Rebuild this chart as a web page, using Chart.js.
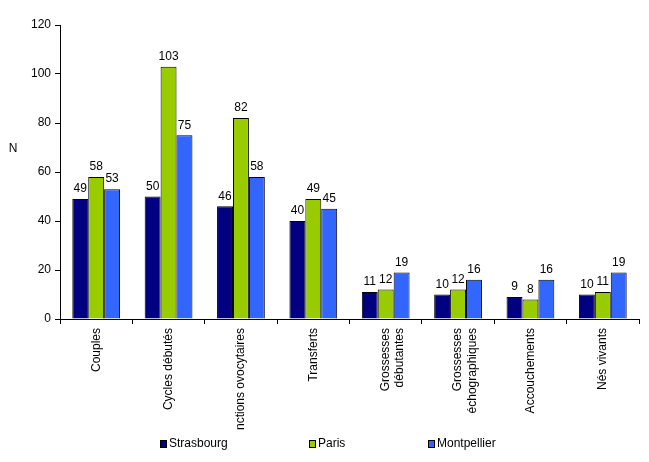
<!DOCTYPE html>
<html>
<head>
<meta charset="utf-8">
<script src="https://cdn.jsdelivr.net/npm/chart.js@4"></script>
<style>
  html, body { margin: 0; padding: 0; background: #fff; }
  #wrap { width: 649px; height: 462px; }
</style>
</head>
<body>
<div id="wrap"><canvas id="barChart" width="649" height="462"></canvas></div>
<script>
const categories = [
  'Couples',
  'Cycles débutés',
  'nctions ovocytaires',
  'Transferts',
  ['Grossesses', 'débutantes'],
  ['Grossesses', 'échographiques'],
  'Accouchements',
  'Nés vivants'
];
const strasbourg = [49, 50, 46, 40, 11, 10, 9, 10];
const paris = [58, 103, 82, 49, 12, 12, 8, 11];
const montpellier = [53, 75, 58, 45, 19, 16, 16, 19];
const yTicks = [0, 20, 40, 60, 80, 100, 120];

const FONT = 'Liberation Sans, Arial, sans-serif';

// valeurs au-dessus des barres
const valueLabels = {
  id: 'valueLabels',
  afterDatasetsDraw(chart) {
    const ctx = chart.ctx;
    ctx.save();
    ctx.font = '12px ' + FONT;
    ctx.fillStyle = '#000';
    ctx.textAlign = 'center';
    ctx.textBaseline = 'bottom';
    chart.data.datasets.forEach((ds, i) => {
      chart.getDatasetMeta(i).data.forEach((bar, j) => {
        ctx.fillText(ds.data[j], bar.x, bar.y - 4);
      });
    });
    ctx.restore();
  }
};

// titre "N" horizontal + légende en bas
const extras = {
  id: 'extras',
  afterDraw(chart) {
    const ctx = chart.ctx;
    ctx.save();
    ctx.font = '12px ' + FONT;
    ctx.fillStyle = '#000';
    ctx.textAlign = 'center';
    ctx.textBaseline = 'middle';
    ctx.fillText('N', 13, 149);

    // légende : même espacement que l'original
    const legendX = [160, 309, 428];
    const legendY = 444;
    ctx.textAlign = 'left';
    chart.data.datasets.forEach((ds, i) => {
      const x = legendX[i];
      ctx.fillStyle = ds.backgroundColor;
      ctx.fillRect(x + 0.5, legendY - 3.5, 6, 7);
      ctx.strokeStyle = '#000';
      ctx.lineWidth = 1;
      ctx.strokeRect(x + 0.5, legendY - 3.5, 6, 7);
      ctx.fillStyle = '#000';
      ctx.fillText(ds.label, x + 9, legendY);
    });
    ctx.restore();
  }
};

new Chart(document.getElementById('barChart').getContext('2d'), {
  type: 'bar',
  data: {
    labels: categories,
    datasets: [
      { label: 'Strasbourg', data: strasbourg, backgroundColor: '#000080' },
      { label: 'Paris', data: paris, backgroundColor: '#99CC00' },
      { label: 'Montpellier', data: montpellier, backgroundColor: '#3366FF' }
    ]
  },
  options: {
    responsive: false,
    animation: false,
    devicePixelRatio: 1,
    datasets: {
      bar: {
        borderColor: '#000',
        borderWidth: 1,
        borderSkipped: 'bottom',
        categoryPercentage: 0.66,
        barPercentage: 1
      }
    },
    layout: { padding: { top: 25, right: 10, left: 0, bottom: 0 } },
    plugins: {
      tooltip: { enabled: false },
      legend: { display: false }
    },
    scales: {
      x: {
        grid: {
          display: true,
          drawOnChartArea: false,
          offset: true,
          color: '#000',
          tickLength: 5
        },
        border: { color: '#000', width: 1 },
        ticks: {
          font: { family: FONT, size: 12 },
          color: '#000',
          maxRotation: 90,
          minRotation: 90,
          autoSkip: false,
          padding: 4
        },
        afterFit(scale) { scale.height = 143; }
      },
      y: {
        min: 0,
        max: 120,
        afterBuildTicks(scale) { scale.ticks = yTicks.map(v => ({ value: v })); },
        grid: {
          display: true,
          drawOnChartArea: false,
          color: '#000',
          tickLength: 5
        },
        border: { color: '#000', width: 1 },
        ticks: {
          font: { family: FONT, size: 12 },
          color: '#000',
          padding: 4
        },
        afterFit(scale) { scale.width = 60; }
      }
    }
  },
  plugins: [valueLabels, extras]
});
</script>
</body>
</html>
